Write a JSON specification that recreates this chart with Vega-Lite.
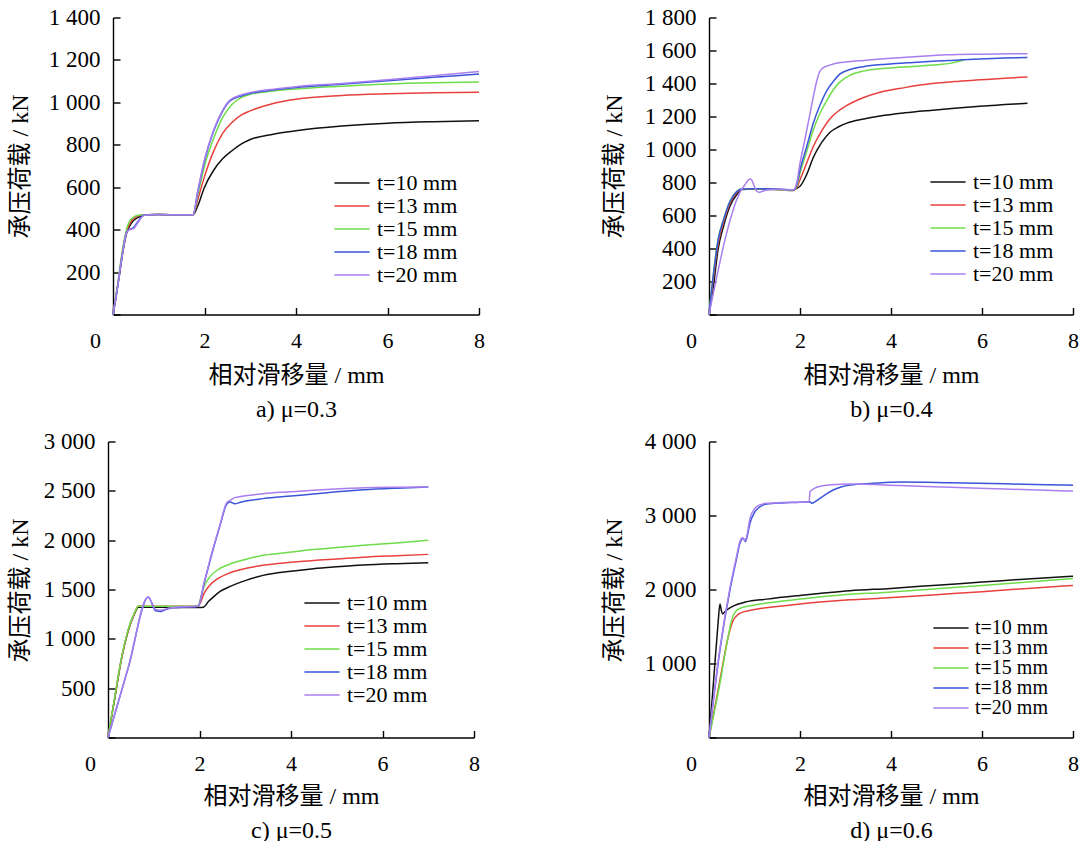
{
"$schema":"https://vega.github.io/schema/vega-lite/v6.json",
"autosize":{"type":"none"},
"padding":{"left":108,"top":17.5,"right":972,"bottom":823.5},
"background":"white",
"config":{
 "view":{"stroke":null},
 "axis":{"grid":false,"domainColor":"#000","domainWidth":1.4,"tickColor":"#000","tickWidth":1.4,"tickSize":-7,"labelFont":"Liberation Serif","labelFontSize":22,"labelColor":"#000","titleFont":"Liberation Serif, Noto Sans CJK SC","titleFontSize":24,"titleFontWeight":"normal","titleColor":"#000"},
 "axisX":{"labelPadding":23,"titleBaseline":"top","titleY":49,"titleLineHeight":34,"titleAlign":"center","labelFlush":false},
 "axisY":{"labelPadding":20,"labelFontSize":23,"titleBaseline":"middle","titleAlign":"center","titleY":148.5,"titleAngle":-90,"labelFlush":false},
 "legend":{"labelFont":"Liberation Serif","labelFontSize":22,"labelColor":"#000","symbolType":"M-2.2,0H2.2","symbolSize":256,"symbolStrokeWidth":1.5,"labelOffset":14,"rowPadding":1,"padding":0,"orient":"none"},
 "line":{"strokeWidth":1.5,"interpolate":"monotone"}
},
"data":{"values":[
{"p":"a","t":"t=10 mm","x":0,"y":0},{"p":"a","t":"t=10 mm","x":0.05,"y":60},{"p":"a","t":"t=10 mm","x":0.1,"y":130},{"p":"a","t":"t=10 mm","x":0.15,"y":200},{"p":"a","t":"t=10 mm","x":0.22,"y":300},{"p":"a","t":"t=10 mm","x":0.3,"y":385},{"p":"a","t":"t=10 mm","x":0.4,"y":430},{"p":"a","t":"t=10 mm","x":0.55,"y":458},{"p":"a","t":"t=10 mm","x":0.75,"y":470},{"p":"a","t":"t=10 mm","x":1.0,"y":471},{"p":"a","t":"t=10 mm","x":1.5,"y":470},{"p":"a","t":"t=10 mm","x":1.75,"y":470},{"p":"a","t":"t=10 mm","x":1.85,"y":510},{"p":"a","t":"t=10 mm","x":2.0,"y":600},{"p":"a","t":"t=10 mm","x":2.2,"y":680},{"p":"a","t":"t=10 mm","x":2.4,"y":735},{"p":"a","t":"t=10 mm","x":2.6,"y":772},{"p":"a","t":"t=10 mm","x":2.8,"y":803},{"p":"a","t":"t=10 mm","x":3.0,"y":825},{"p":"a","t":"t=10 mm","x":3.5,"y":850},{"p":"a","t":"t=10 mm","x":4,"y":866},{"p":"a","t":"t=10 mm","x":5,"y":888},{"p":"a","t":"t=10 mm","x":6,"y":902},{"p":"a","t":"t=10 mm","x":7,"y":909},{"p":"a","t":"t=10 mm","x":8,"y":913},
{"p":"a","t":"t=13 mm","x":0,"y":0},{"p":"a","t":"t=13 mm","x":0.1,"y":135},{"p":"a","t":"t=13 mm","x":0.2,"y":285},{"p":"a","t":"t=13 mm","x":0.3,"y":395},{"p":"a","t":"t=13 mm","x":0.4,"y":440},{"p":"a","t":"t=13 mm","x":0.55,"y":465},{"p":"a","t":"t=13 mm","x":0.75,"y":470},{"p":"a","t":"t=13 mm","x":1.0,"y":471},{"p":"a","t":"t=13 mm","x":1.5,"y":470},{"p":"a","t":"t=13 mm","x":1.75,"y":470},{"p":"a","t":"t=13 mm","x":1.85,"y":540},{"p":"a","t":"t=13 mm","x":2.0,"y":650},{"p":"a","t":"t=13 mm","x":2.2,"y":770},{"p":"a","t":"t=13 mm","x":2.4,"y":855},{"p":"a","t":"t=13 mm","x":2.6,"y":905},{"p":"a","t":"t=13 mm","x":2.8,"y":940},{"p":"a","t":"t=13 mm","x":3.0,"y":960},{"p":"a","t":"t=13 mm","x":3.5,"y":995},{"p":"a","t":"t=13 mm","x":4,"y":1015},{"p":"a","t":"t=13 mm","x":5,"y":1032},{"p":"a","t":"t=13 mm","x":6,"y":1040},{"p":"a","t":"t=13 mm","x":7,"y":1045},{"p":"a","t":"t=13 mm","x":8,"y":1048},
{"p":"a","t":"t=15 mm","x":0,"y":0},{"p":"a","t":"t=15 mm","x":0.1,"y":140},{"p":"a","t":"t=15 mm","x":0.2,"y":295},{"p":"a","t":"t=15 mm","x":0.3,"y":405},{"p":"a","t":"t=15 mm","x":0.4,"y":450},{"p":"a","t":"t=15 mm","x":0.55,"y":468},{"p":"a","t":"t=15 mm","x":0.7,"y":470},{"p":"a","t":"t=15 mm","x":1.0,"y":471},{"p":"a","t":"t=15 mm","x":1.5,"y":470},{"p":"a","t":"t=15 mm","x":1.75,"y":470},{"p":"a","t":"t=15 mm","x":1.85,"y":560},{"p":"a","t":"t=15 mm","x":2.0,"y":700},{"p":"a","t":"t=15 mm","x":2.2,"y":830},{"p":"a","t":"t=15 mm","x":2.4,"y":930},{"p":"a","t":"t=15 mm","x":2.6,"y":990},{"p":"a","t":"t=15 mm","x":2.8,"y":1022},{"p":"a","t":"t=15 mm","x":3.0,"y":1038},{"p":"a","t":"t=15 mm","x":3.5,"y":1053},{"p":"a","t":"t=15 mm","x":4,"y":1063},{"p":"a","t":"t=15 mm","x":5,"y":1076},{"p":"a","t":"t=15 mm","x":6,"y":1087},{"p":"a","t":"t=15 mm","x":7,"y":1093},{"p":"a","t":"t=15 mm","x":8,"y":1096},
{"p":"a","t":"t=18 mm","x":0,"y":0},{"p":"a","t":"t=18 mm","x":0.1,"y":130},{"p":"a","t":"t=18 mm","x":0.2,"y":280},{"p":"a","t":"t=18 mm","x":0.3,"y":390},{"p":"a","t":"t=18 mm","x":0.35,"y":400},{"p":"a","t":"t=18 mm","x":0.45,"y":410},{"p":"a","t":"t=18 mm","x":0.55,"y":440},{"p":"a","t":"t=18 mm","x":0.67,"y":468},{"p":"a","t":"t=18 mm","x":0.8,"y":470},{"p":"a","t":"t=18 mm","x":1.0,"y":471},{"p":"a","t":"t=18 mm","x":1.5,"y":470},{"p":"a","t":"t=18 mm","x":1.75,"y":470},{"p":"a","t":"t=18 mm","x":1.85,"y":575},{"p":"a","t":"t=18 mm","x":2.0,"y":725},{"p":"a","t":"t=18 mm","x":2.2,"y":865},{"p":"a","t":"t=18 mm","x":2.4,"y":960},{"p":"a","t":"t=18 mm","x":2.55,"y":1005},{"p":"a","t":"t=18 mm","x":2.8,"y":1030},{"p":"a","t":"t=18 mm","x":3.0,"y":1042},{"p":"a","t":"t=18 mm","x":3.5,"y":1058},{"p":"a","t":"t=18 mm","x":4,"y":1070},{"p":"a","t":"t=18 mm","x":5,"y":1085},{"p":"a","t":"t=18 mm","x":6,"y":1102},{"p":"a","t":"t=18 mm","x":7,"y":1118},{"p":"a","t":"t=18 mm","x":8,"y":1134},
{"p":"a","t":"t=20 mm","x":0,"y":0},{"p":"a","t":"t=20 mm","x":0.1,"y":128},{"p":"a","t":"t=20 mm","x":0.2,"y":278},{"p":"a","t":"t=20 mm","x":0.3,"y":388},{"p":"a","t":"t=20 mm","x":0.35,"y":398},{"p":"a","t":"t=20 mm","x":0.45,"y":405},{"p":"a","t":"t=20 mm","x":0.55,"y":435},{"p":"a","t":"t=20 mm","x":0.67,"y":466},{"p":"a","t":"t=20 mm","x":0.8,"y":470},{"p":"a","t":"t=20 mm","x":1.0,"y":471},{"p":"a","t":"t=20 mm","x":1.5,"y":470},{"p":"a","t":"t=20 mm","x":1.75,"y":470},{"p":"a","t":"t=20 mm","x":1.85,"y":580},{"p":"a","t":"t=20 mm","x":2.0,"y":730},{"p":"a","t":"t=20 mm","x":2.2,"y":870},{"p":"a","t":"t=20 mm","x":2.4,"y":965},{"p":"a","t":"t=20 mm","x":2.55,"y":1010},{"p":"a","t":"t=20 mm","x":2.8,"y":1035},{"p":"a","t":"t=20 mm","x":3.0,"y":1046},{"p":"a","t":"t=20 mm","x":3.5,"y":1062},{"p":"a","t":"t=20 mm","x":4,"y":1074},{"p":"a","t":"t=20 mm","x":5,"y":1089},{"p":"a","t":"t=20 mm","x":6,"y":1106},{"p":"a","t":"t=20 mm","x":7,"y":1125},{"p":"a","t":"t=20 mm","x":8,"y":1146},

{"p":"b","t":"t=10 mm","x":0,"y":0},{"p":"b","t":"t=10 mm","x":0.1,"y":176},{"p":"b","t":"t=10 mm","x":0.2,"y":396},{"p":"b","t":"t=10 mm","x":0.32,"y":536},{"p":"b","t":"t=10 mm","x":0.46,"y":656},{"p":"b","t":"t=10 mm","x":0.61,"y":727},{"p":"b","t":"t=10 mm","x":0.72,"y":757},{"p":"b","t":"t=10 mm","x":1.0,"y":760},{"p":"b","t":"t=10 mm","x":1.5,"y":758},{"p":"b","t":"t=10 mm","x":1.85,"y":755},{"p":"b","t":"t=10 mm","x":1.93,"y":765},{"p":"b","t":"t=10 mm","x":2.0,"y":777},{"p":"b","t":"t=10 mm","x":2.15,"y":850},{"p":"b","t":"t=10 mm","x":2.29,"y":950},{"p":"b","t":"t=10 mm","x":2.47,"y":1040},{"p":"b","t":"t=10 mm","x":2.66,"y":1105},{"p":"b","t":"t=10 mm","x":2.85,"y":1138},{"p":"b","t":"t=10 mm","x":3.03,"y":1160},{"p":"b","t":"t=10 mm","x":3.4,"y":1185},{"p":"b","t":"t=10 mm","x":3.76,"y":1203},{"p":"b","t":"t=10 mm","x":4.3,"y":1222},{"p":"b","t":"t=10 mm","x":4.86,"y":1237},{"p":"b","t":"t=10 mm","x":5.4,"y":1250},{"p":"b","t":"t=10 mm","x":5.95,"y":1262},{"p":"b","t":"t=10 mm","x":6.5,"y":1272},{"p":"b","t":"t=10 mm","x":7.0,"y":1281},
{"p":"b","t":"t=13 mm","x":0,"y":0},{"p":"b","t":"t=13 mm","x":0.1,"y":230},{"p":"b","t":"t=13 mm","x":0.2,"y":430},{"p":"b","t":"t=13 mm","x":0.32,"y":560},{"p":"b","t":"t=13 mm","x":0.46,"y":675},{"p":"b","t":"t=13 mm","x":0.61,"y":740},{"p":"b","t":"t=13 mm","x":0.72,"y":760},{"p":"b","t":"t=13 mm","x":1.0,"y":762},{"p":"b","t":"t=13 mm","x":1.5,"y":758},{"p":"b","t":"t=13 mm","x":1.85,"y":752},{"p":"b","t":"t=13 mm","x":1.93,"y":770},{"p":"b","t":"t=13 mm","x":2.0,"y":817},{"p":"b","t":"t=13 mm","x":2.15,"y":920},{"p":"b","t":"t=13 mm","x":2.29,"y":1017},{"p":"b","t":"t=13 mm","x":2.47,"y":1110},{"p":"b","t":"t=13 mm","x":2.66,"y":1187},{"p":"b","t":"t=13 mm","x":2.85,"y":1235},{"p":"b","t":"t=13 mm","x":3.03,"y":1267},{"p":"b","t":"t=13 mm","x":3.4,"y":1315},{"p":"b","t":"t=13 mm","x":3.76,"y":1347},{"p":"b","t":"t=13 mm","x":4.3,"y":1375},{"p":"b","t":"t=13 mm","x":4.86,"y":1398},{"p":"b","t":"t=13 mm","x":5.4,"y":1412},{"p":"b","t":"t=13 mm","x":5.95,"y":1422},{"p":"b","t":"t=13 mm","x":6.5,"y":1432},{"p":"b","t":"t=13 mm","x":7.0,"y":1440},
{"p":"b","t":"t=15 mm","x":0,"y":0},{"p":"b","t":"t=15 mm","x":0.1,"y":256},{"p":"b","t":"t=15 mm","x":0.2,"y":456},{"p":"b","t":"t=15 mm","x":0.32,"y":576},{"p":"b","t":"t=15 mm","x":0.46,"y":686},{"p":"b","t":"t=15 mm","x":0.61,"y":747},{"p":"b","t":"t=15 mm","x":0.72,"y":762},{"p":"b","t":"t=15 mm","x":1.0,"y":762},{"p":"b","t":"t=15 mm","x":1.5,"y":758},{"p":"b","t":"t=15 mm","x":1.85,"y":752},{"p":"b","t":"t=15 mm","x":1.93,"y":780},{"p":"b","t":"t=15 mm","x":2.0,"y":857},{"p":"b","t":"t=15 mm","x":2.15,"y":990},{"p":"b","t":"t=15 mm","x":2.29,"y":1117},{"p":"b","t":"t=15 mm","x":2.44,"y":1220},{"p":"b","t":"t=15 mm","x":2.59,"y":1297},{"p":"b","t":"t=15 mm","x":2.74,"y":1365},{"p":"b","t":"t=15 mm","x":2.88,"y":1410},{"p":"b","t":"t=15 mm","x":3.1,"y":1450},{"p":"b","t":"t=15 mm","x":3.39,"y":1475},{"p":"b","t":"t=15 mm","x":3.9,"y":1492},{"p":"b","t":"t=15 mm","x":4.49,"y":1503},{"p":"b","t":"t=15 mm","x":5.0,"y":1513},{"p":"b","t":"t=15 mm","x":5.3,"y":1522},{"p":"b","t":"t=15 mm","x":5.6,"y":1542},
{"p":"b","t":"t=18 mm","x":0,"y":0},{"p":"b","t":"t=18 mm","x":0.1,"y":250},{"p":"b","t":"t=18 mm","x":0.2,"y":450},{"p":"b","t":"t=18 mm","x":0.32,"y":575},{"p":"b","t":"t=18 mm","x":0.46,"y":685},{"p":"b","t":"t=18 mm","x":0.61,"y":745},{"p":"b","t":"t=18 mm","x":0.72,"y":760},{"p":"b","t":"t=18 mm","x":1.0,"y":762},{"p":"b","t":"t=18 mm","x":1.5,"y":760},{"p":"b","t":"t=18 mm","x":1.85,"y":755},{"p":"b","t":"t=18 mm","x":1.93,"y":790},{"p":"b","t":"t=18 mm","x":2.0,"y":877},{"p":"b","t":"t=18 mm","x":2.15,"y":1020},{"p":"b","t":"t=18 mm","x":2.29,"y":1157},{"p":"b","t":"t=18 mm","x":2.44,"y":1270},{"p":"b","t":"t=18 mm","x":2.59,"y":1357},{"p":"b","t":"t=18 mm","x":2.74,"y":1415},{"p":"b","t":"t=18 mm","x":2.88,"y":1458},{"p":"b","t":"t=18 mm","x":3.1,"y":1485},{"p":"b","t":"t=18 mm","x":3.39,"y":1502},{"p":"b","t":"t=18 mm","x":3.9,"y":1517},{"p":"b","t":"t=18 mm","x":4.49,"y":1528},{"p":"b","t":"t=18 mm","x":5.0,"y":1536},{"p":"b","t":"t=18 mm","x":5.5,"y":1542},{"p":"b","t":"t=18 mm","x":5.95,"y":1548},{"p":"b","t":"t=18 mm","x":6.5,"y":1554},{"p":"b","t":"t=18 mm","x":7.0,"y":1558},
{"p":"b","t":"t=20 mm","x":0,"y":0},{"p":"b","t":"t=20 mm","x":0.72,"y":760},{"p":"b","t":"t=20 mm","x":0.8,"y":790},{"p":"b","t":"t=20 mm","x":0.86,"y":815},{"p":"b","t":"t=20 mm","x":0.92,"y":821},{"p":"b","t":"t=20 mm","x":0.97,"y":795},{"p":"b","t":"t=20 mm","x":1.03,"y":755},{"p":"b","t":"t=20 mm","x":1.09,"y":741},{"p":"b","t":"t=20 mm","x":1.16,"y":745},{"p":"b","t":"t=20 mm","x":1.23,"y":752},{"p":"b","t":"t=20 mm","x":1.37,"y":757},{"p":"b","t":"t=20 mm","x":1.5,"y":760},{"p":"b","t":"t=20 mm","x":1.85,"y":755},{"p":"b","t":"t=20 mm","x":1.93,"y":800},{"p":"b","t":"t=20 mm","x":2.0,"y":917},{"p":"b","t":"t=20 mm","x":2.1,"y":1050},{"p":"b","t":"t=20 mm","x":2.22,"y":1217},{"p":"b","t":"t=20 mm","x":2.3,"y":1330},{"p":"b","t":"t=20 mm","x":2.37,"y":1417},{"p":"b","t":"t=20 mm","x":2.43,"y":1470},{"p":"b","t":"t=20 mm","x":2.5,"y":1493},{"p":"b","t":"t=20 mm","x":2.6,"y":1507},{"p":"b","t":"t=20 mm","x":2.73,"y":1518},{"p":"b","t":"t=20 mm","x":3.0,"y":1530},{"p":"b","t":"t=20 mm","x":3.4,"y":1540},{"p":"b","t":"t=20 mm","x":3.76,"y":1548},{"p":"b","t":"t=20 mm","x":4.5,"y":1562},{"p":"b","t":"t=20 mm","x":5.22,"y":1574},{"p":"b","t":"t=20 mm","x":6.0,"y":1578},{"p":"b","t":"t=20 mm","x":7.0,"y":1580},

{"p":"c","t":"t=10 mm","x":0,"y":0},{"p":"c","t":"t=10 mm","x":0.15,"y":405},{"p":"c","t":"t=10 mm","x":0.3,"y":810},{"p":"c","t":"t=10 mm","x":0.44,"y":1080},{"p":"c","t":"t=10 mm","x":0.59,"y":1265},{"p":"c","t":"t=10 mm","x":0.66,"y":1320},{"p":"c","t":"t=10 mm","x":1.0,"y":1320},{"p":"c","t":"t=10 mm","x":1.5,"y":1318},{"p":"c","t":"t=10 mm","x":2.0,"y":1318},{"p":"c","t":"t=10 mm","x":2.08,"y":1320},{"p":"c","t":"t=10 mm","x":2.2,"y":1380},{"p":"c","t":"t=10 mm","x":2.3,"y":1423},{"p":"c","t":"t=10 mm","x":2.45,"y":1480},{"p":"c","t":"t=10 mm","x":2.67,"y":1531},{"p":"c","t":"t=10 mm","x":3.0,"y":1590},{"p":"c","t":"t=10 mm","x":3.39,"y":1643},{"p":"c","t":"t=10 mm","x":4.0,"y":1685},{"p":"c","t":"t=10 mm","x":4.49,"y":1711},{"p":"c","t":"t=10 mm","x":5.0,"y":1730},{"p":"c","t":"t=10 mm","x":5.58,"y":1748},{"p":"c","t":"t=10 mm","x":6.3,"y":1762},{"p":"c","t":"t=10 mm","x":7.0,"y":1772},
{"p":"c","t":"t=13 mm","x":0,"y":0},{"p":"c","t":"t=13 mm","x":0.15,"y":410},{"p":"c","t":"t=13 mm","x":0.3,"y":815},{"p":"c","t":"t=13 mm","x":0.44,"y":1085},{"p":"c","t":"t=13 mm","x":0.59,"y":1271},{"p":"c","t":"t=13 mm","x":0.66,"y":1330},{"p":"c","t":"t=13 mm","x":1.0,"y":1330},{"p":"c","t":"t=13 mm","x":1.5,"y":1330},{"p":"c","t":"t=13 mm","x":1.97,"y":1330},{"p":"c","t":"t=13 mm","x":2.01,"y":1356},{"p":"c","t":"t=13 mm","x":2.1,"y":1460},{"p":"c","t":"t=13 mm","x":2.23,"y":1545},{"p":"c","t":"t=13 mm","x":2.4,"y":1610},{"p":"c","t":"t=13 mm","x":2.67,"y":1670},{"p":"c","t":"t=13 mm","x":3.0,"y":1712},{"p":"c","t":"t=13 mm","x":3.39,"y":1745},{"p":"c","t":"t=13 mm","x":4.0,"y":1775},{"p":"c","t":"t=13 mm","x":4.49,"y":1795},{"p":"c","t":"t=13 mm","x":5.0,"y":1810},{"p":"c","t":"t=13 mm","x":5.58,"y":1828},{"p":"c","t":"t=13 mm","x":6.3,"y":1843},{"p":"c","t":"t=13 mm","x":7.0,"y":1856},
{"p":"c","t":"t=15 mm","x":0,"y":0},{"p":"c","t":"t=15 mm","x":0.15,"y":415},{"p":"c","t":"t=15 mm","x":0.3,"y":820},{"p":"c","t":"t=15 mm","x":0.44,"y":1090},{"p":"c","t":"t=15 mm","x":0.59,"y":1275},{"p":"c","t":"t=15 mm","x":0.66,"y":1330},{"p":"c","t":"t=15 mm","x":1.0,"y":1330},{"p":"c","t":"t=15 mm","x":1.5,"y":1330},{"p":"c","t":"t=15 mm","x":1.97,"y":1330},{"p":"c","t":"t=15 mm","x":2.01,"y":1390},{"p":"c","t":"t=15 mm","x":2.1,"y":1530},{"p":"c","t":"t=15 mm","x":2.23,"y":1630},{"p":"c","t":"t=15 mm","x":2.4,"y":1700},{"p":"c","t":"t=15 mm","x":2.67,"y":1758},{"p":"c","t":"t=15 mm","x":3.0,"y":1805},{"p":"c","t":"t=15 mm","x":3.39,"y":1846},{"p":"c","t":"t=15 mm","x":4.0,"y":1880},{"p":"c","t":"t=15 mm","x":4.49,"y":1905},{"p":"c","t":"t=15 mm","x":5.0,"y":1925},{"p":"c","t":"t=15 mm","x":5.58,"y":1948},{"p":"c","t":"t=15 mm","x":6.3,"y":1972},{"p":"c","t":"t=15 mm","x":7.0,"y":1998},
{"p":"c","t":"t=18 mm","x":0,"y":0},{"p":"c","t":"t=18 mm","x":0.45,"y":720},{"p":"c","t":"t=18 mm","x":0.88,"y":1423},{"p":"c","t":"t=18 mm","x":0.95,"y":1370},{"p":"c","t":"t=18 mm","x":1.03,"y":1288},{"p":"c","t":"t=18 mm","x":1.16,"y":1278},{"p":"c","t":"t=18 mm","x":1.28,"y":1300},{"p":"c","t":"t=18 mm","x":1.4,"y":1315},{"p":"c","t":"t=18 mm","x":1.6,"y":1320},{"p":"c","t":"t=18 mm","x":1.97,"y":1330},{"p":"c","t":"t=18 mm","x":2.1,"y":1560},{"p":"c","t":"t=18 mm","x":2.3,"y":1910},{"p":"c","t":"t=18 mm","x":2.45,"y":2150},{"p":"c","t":"t=18 mm","x":2.59,"y":2360},{"p":"c","t":"t=18 mm","x":2.67,"y":2386},{"p":"c","t":"t=18 mm","x":2.77,"y":2368},{"p":"c","t":"t=18 mm","x":2.9,"y":2385},{"p":"c","t":"t=18 mm","x":3.39,"y":2421},{"p":"c","t":"t=18 mm","x":4.0,"y":2447},{"p":"c","t":"t=18 mm","x":4.49,"y":2468},{"p":"c","t":"t=18 mm","x":5.0,"y":2490},{"p":"c","t":"t=18 mm","x":5.58,"y":2510},{"p":"c","t":"t=18 mm","x":6.3,"y":2527},{"p":"c","t":"t=18 mm","x":7.0,"y":2540},
{"p":"c","t":"t=20 mm","x":0,"y":0},{"p":"c","t":"t=20 mm","x":0.45,"y":720},{"p":"c","t":"t=20 mm","x":0.88,"y":1423},{"p":"c","t":"t=20 mm","x":0.95,"y":1375},{"p":"c","t":"t=20 mm","x":1.03,"y":1300},{"p":"c","t":"t=20 mm","x":1.16,"y":1290},{"p":"c","t":"t=20 mm","x":1.28,"y":1305},{"p":"c","t":"t=20 mm","x":1.4,"y":1318},{"p":"c","t":"t=20 mm","x":1.97,"y":1330},{"p":"c","t":"t=20 mm","x":2.1,"y":1570},{"p":"c","t":"t=20 mm","x":2.3,"y":1920},{"p":"c","t":"t=20 mm","x":2.45,"y":2160},{"p":"c","t":"t=20 mm","x":2.59,"y":2375},{"p":"c","t":"t=20 mm","x":2.67,"y":2403},{"p":"c","t":"t=20 mm","x":2.77,"y":2431},{"p":"c","t":"t=20 mm","x":3.0,"y":2450},{"p":"c","t":"t=20 mm","x":3.39,"y":2471},{"p":"c","t":"t=20 mm","x":4.0,"y":2490},{"p":"c","t":"t=20 mm","x":4.49,"y":2505},{"p":"c","t":"t=20 mm","x":5.0,"y":2518},{"p":"c","t":"t=20 mm","x":5.58,"y":2532},{"p":"c","t":"t=20 mm","x":6.3,"y":2537},{"p":"c","t":"t=20 mm","x":7.0,"y":2540},

{"p":"d","t":"t=10 mm","x":0,"y":0},{"p":"d","t":"t=10 mm","x":0.07,"y":520},{"p":"d","t":"t=10 mm","x":0.13,"y":1003},{"p":"d","t":"t=10 mm","x":0.2,"y":1550},{"p":"d","t":"t=10 mm","x":0.24,"y":1804},{"p":"d","t":"t=10 mm","x":0.27,"y":1720},{"p":"d","t":"t=10 mm","x":0.3,"y":1669},{"p":"d","t":"t=10 mm","x":0.35,"y":1700},{"p":"d","t":"t=10 mm","x":0.39,"y":1723},{"p":"d","t":"t=10 mm","x":0.53,"y":1775},{"p":"d","t":"t=10 mm","x":0.8,"y":1830},{"p":"d","t":"t=10 mm","x":1.27,"y":1870},{"p":"d","t":"t=10 mm","x":2.0,"y":1920},{"p":"d","t":"t=10 mm","x":3.1,"y":1984},{"p":"d","t":"t=10 mm","x":4.0,"y":2015},{"p":"d","t":"t=10 mm","x":5.0,"y":2058},{"p":"d","t":"t=10 mm","x":6.0,"y":2100},{"p":"d","t":"t=10 mm","x":7.0,"y":2143},{"p":"d","t":"t=10 mm","x":8.0,"y":2180},
{"p":"d","t":"t=13 mm","x":0,"y":0},{"p":"d","t":"t=13 mm","x":0.2,"y":640},{"p":"d","t":"t=13 mm","x":0.46,"y":1453},{"p":"d","t":"t=13 mm","x":0.53,"y":1580},{"p":"d","t":"t=13 mm","x":0.6,"y":1640},{"p":"d","t":"t=13 mm","x":0.68,"y":1680},{"p":"d","t":"t=13 mm","x":1.0,"y":1730},{"p":"d","t":"t=13 mm","x":1.5,"y":1770},{"p":"d","t":"t=13 mm","x":2.0,"y":1805},{"p":"d","t":"t=13 mm","x":3.1,"y":1860},{"p":"d","t":"t=13 mm","x":3.76,"y":1882},{"p":"d","t":"t=13 mm","x":5.0,"y":1930},{"p":"d","t":"t=13 mm","x":6.0,"y":1970},{"p":"d","t":"t=13 mm","x":7.0,"y":2015},{"p":"d","t":"t=13 mm","x":8.0,"y":2055},
{"p":"d","t":"t=15 mm","x":0,"y":0},{"p":"d","t":"t=15 mm","x":0.24,"y":732},{"p":"d","t":"t=15 mm","x":0.42,"y":1362},{"p":"d","t":"t=15 mm","x":0.5,"y":1590},{"p":"d","t":"t=15 mm","x":0.57,"y":1690},{"p":"d","t":"t=15 mm","x":0.68,"y":1745},{"p":"d","t":"t=15 mm","x":1.0,"y":1790},{"p":"d","t":"t=15 mm","x":1.5,"y":1835},{"p":"d","t":"t=15 mm","x":2.0,"y":1870},{"p":"d","t":"t=15 mm","x":3.1,"y":1935},{"p":"d","t":"t=15 mm","x":3.76,"y":1957},{"p":"d","t":"t=15 mm","x":5.0,"y":2010},{"p":"d","t":"t=15 mm","x":6.0,"y":2055},{"p":"d","t":"t=15 mm","x":7.0,"y":2100},{"p":"d","t":"t=15 mm","x":8.0,"y":2150},
{"p":"d","t":"t=18 mm","x":0,"y":0},{"p":"d","t":"t=18 mm","x":0.24,"y":1182},{"p":"d","t":"t=18 mm","x":0.46,"y":1993},{"p":"d","t":"t=18 mm","x":0.6,"y":2400},{"p":"d","t":"t=18 mm","x":0.68,"y":2624},{"p":"d","t":"t=18 mm","x":0.75,"y":2692},{"p":"d","t":"t=18 mm","x":0.8,"y":2646},{"p":"d","t":"t=18 mm","x":0.84,"y":2720},{"p":"d","t":"t=18 mm","x":0.9,"y":2894},{"p":"d","t":"t=18 mm","x":1.01,"y":3051},{"p":"d","t":"t=18 mm","x":1.1,"y":3110},{"p":"d","t":"t=18 mm","x":1.27,"y":3155},{"p":"d","t":"t=18 mm","x":1.6,"y":3170},{"p":"d","t":"t=18 mm","x":2.0,"y":3178},{"p":"d","t":"t=18 mm","x":2.22,"y":3186},{"p":"d","t":"t=18 mm","x":2.26,"y":3165},{"p":"d","t":"t=18 mm","x":2.35,"y":3195},{"p":"d","t":"t=18 mm","x":2.44,"y":3232},{"p":"d","t":"t=18 mm","x":2.6,"y":3300},{"p":"d","t":"t=18 mm","x":2.73,"y":3345},{"p":"d","t":"t=18 mm","x":2.9,"y":3385},{"p":"d","t":"t=18 mm","x":3.1,"y":3412},{"p":"d","t":"t=18 mm","x":3.6,"y":3435},{"p":"d","t":"t=18 mm","x":4.2,"y":3453},{"p":"d","t":"t=18 mm","x":5.3,"y":3443},{"p":"d","t":"t=18 mm","x":6.5,"y":3428},{"p":"d","t":"t=18 mm","x":7.71,"y":3412},{"p":"d","t":"t=18 mm","x":8.0,"y":3410},
{"p":"d","t":"t=20 mm","x":0,"y":0},{"p":"d","t":"t=20 mm","x":0.24,"y":1200},{"p":"d","t":"t=20 mm","x":0.46,"y":2020},{"p":"d","t":"t=20 mm","x":0.6,"y":2430},{"p":"d","t":"t=20 mm","x":0.68,"y":2650},{"p":"d","t":"t=20 mm","x":0.74,"y":2700},{"p":"d","t":"t=20 mm","x":0.79,"y":2660},{"p":"d","t":"t=20 mm","x":0.84,"y":2750},{"p":"d","t":"t=20 mm","x":0.9,"y":2961},{"p":"d","t":"t=20 mm","x":1.01,"y":3097},{"p":"d","t":"t=20 mm","x":1.1,"y":3140},{"p":"d","t":"t=20 mm","x":1.27,"y":3165},{"p":"d","t":"t=20 mm","x":1.6,"y":3175},{"p":"d","t":"t=20 mm","x":2.0,"y":3180},{"p":"d","t":"t=20 mm","x":2.2,"y":3186},{"p":"d","t":"t=20 mm","x":2.22,"y":3321},{"p":"d","t":"t=20 mm","x":2.3,"y":3360},{"p":"d","t":"t=20 mm","x":2.37,"y":3381},{"p":"d","t":"t=20 mm","x":2.7,"y":3415},{"p":"d","t":"t=20 mm","x":3.1,"y":3426},{"p":"d","t":"t=20 mm","x":4.2,"y":3405},{"p":"d","t":"t=20 mm","x":5.3,"y":3381},{"p":"d","t":"t=20 mm","x":6.5,"y":3358},{"p":"d","t":"t=20 mm","x":7.71,"y":3335},{"p":"d","t":"t=20 mm","x":8.0,"y":3330}
]},
"bounds":"flush",
"spacing":424,
"resolve":{"scale":{"color":"independent"},"legend":{"color":"independent"}},
"vconcat":[
{"hconcat":[
 {"width":371,"height":297,
  "transform":[{"filter":"datum.p == 'a'"}],
  "mark":"line",
  "encoding":{
   "x":{"field":"x","type":"quantitative","scale":{"domain":[0,8],"range":[5,371],"nice":false,"zero":false},
     "axis":{"values":[0,2,4,6,8],"title":["相对滑移量 / mm","a) μ=0.3"],"titleX":188,"labelOffset":{"condition":{"test":"datum.value == 0","value":-18},"value":0}}},
   "y":{"field":"y","type":"quantitative","scale":{"domain":[0,1400],"nice":false},
     "axis":{"values":[0,200,400,600,800,1000,1200,1400],"offset":-5,"title":"承压荷载 / kN","titleX":-93,"labelExpr":"datum.value == 0 ? '' : replace(format(datum.value, ','), ',', ' ')"}},
   "color":{"field":"t","type":"nominal","scale":{"domain":["t=10 mm","t=13 mm","t=15 mm","t=18 mm","t=20 mm"],"range":["#111111","#e8403c","#6fdc4a","#3a55d8","#a97ff0"]},
     "legend":{"title":null,"orient":"none","legendX":233,"legendY":154.5}}
  }},
 {"width":364,"height":297,
  "transform":[{"filter":"datum.p == 'b'"}],
  "mark":"line",
  "encoding":{
   "x":{"field":"x","type":"quantitative","scale":{"domain":[0,8],"nice":false,"zero":false},
     "axis":{"values":[0,2,4,6,8],"title":["相对滑移量 / mm","b) μ=0.4"],"titleX":182,"labelOffset":{"condition":{"test":"datum.value == 0","value":-18},"value":0}}},
   "y":{"field":"y","type":"quantitative","scale":{"domain":[0,1800],"nice":false},
     "axis":{"values":[0,200,400,600,800,1000,1200,1400,1600,1800],"title":"承压荷载 / kN","titleX":-95,"labelExpr":"datum.value == 0 ? '' : replace(format(datum.value, ','), ',', ' ')"}},
   "color":{"field":"t","type":"nominal","scale":{"domain":["t=10 mm","t=13 mm","t=15 mm","t=18 mm","t=20 mm"],"range":["#111111","#e8403c","#6fdc4a","#3a55d8","#a97ff0"]},
     "legend":{"title":null,"orient":"none","legendX":228,"legendY":153.5}}
  }}
 ],
 "spacing":230,"bounds":"flush",
 "resolve":{"scale":{"color":"independent"},"legend":{"color":"independent"}}
},
{"hconcat":[
 {"width":366,"height":296,
  "transform":[{"filter":"datum.p == 'c'"}],
  "mark":"line",
  "encoding":{
   "x":{"field":"x","type":"quantitative","scale":{"domain":[0,8],"nice":false,"zero":false},
     "axis":{"values":[0,2,4,6,8],"title":["相对滑移量 / mm","c) μ=0.5"],"titleX":183,"titleY":46.5,"labelOffset":{"condition":{"test":"datum.value == 0","value":-18},"value":0}}},
   "y":{"field":"y","type":"quantitative","scale":{"domain":[0,3000],"nice":false},
     "axis":{"values":[0,500,1000,1500,2000,2500,3000],"title":"承压荷载 / kN","titleX":-88,"labelExpr":"datum.value == 0 ? '' : replace(format(datum.value, ','), ',', ' ')"}},
   "color":{"field":"t","type":"nominal","scale":{"domain":["t=10 mm","t=13 mm","t=15 mm","t=18 mm","t=20 mm"],"range":["#111111","#e8403c","#6fdc4a","#3a55d8","#a97ff0"]},
     "legend":{"title":null,"orient":"none","legendX":203,"legendY":150.5}}
  }},
 {"width":364,"height":296,
  "transform":[{"filter":"datum.p == 'd'"}],
  "mark":"line",
  "encoding":{
   "x":{"field":"x","type":"quantitative","scale":{"domain":[0,8],"nice":false,"zero":false},
     "axis":{"values":[0,2,4,6,8],"title":["相对滑移量 / mm","d) μ=0.6"],"titleX":182,"titleY":46.5,"labelOffset":{"condition":{"test":"datum.value == 0","value":-18},"value":0}}},
   "y":{"field":"y","type":"quantitative","scale":{"domain":[0,4000],"nice":false},
     "axis":{"values":[0,1000,2000,3000,4000],"title":"承压荷载 / kN","titleX":-95,"labelExpr":"datum.value == 0 ? '' : replace(format(datum.value, ','), ',', ' ')"}},
   "color":{"field":"t","type":"nominal","scale":{"domain":["t=10 mm","t=13 mm","t=15 mm","t=18 mm","t=20 mm"],"range":["#111111","#e8403c","#6fdc4a","#3a55d8","#a97ff0"]},
     "legend":{"title":null,"orient":"none","legendX":232,"legendY":176.5,"labelFontSize":20,"rowPadding":0}}
  }}
 ],
 "spacing":235,"bounds":"flush",
 "resolve":{"scale":{"color":"independent"},"legend":{"color":"independent"}}
}
]
}
